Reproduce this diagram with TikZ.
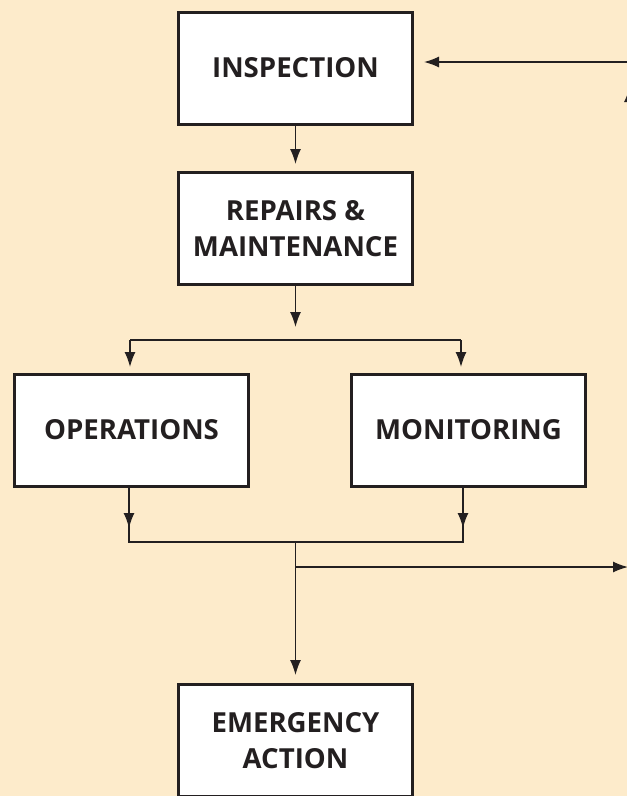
\documentclass[tikz,border=0pt]{standalone}
\usepackage{fontspec}
\setmainfont{Open Sans}
\usetikzlibrary{arrows.meta}
\definecolor{bg}{HTML}{FDEBCB}
\definecolor{ink}{HTML}{231F20}
\begin{document}
\begin{tikzpicture}[x=1pt,y=-1pt,
 box/.style={draw=ink, line width=3pt, fill=white, minimum width=234pt, minimum height=112pt, inner sep=0pt, align=center, font=\fontsize{27.6}{36}\selectfont\bfseries, text=ink},
 conn/.style={draw=ink, line width=1.4pt},
 tip/.style={-{Latex[length=15pt,width=11pt]}}
]
\path[use as bounding box] (0,0) rectangle (627,796);
\clip (0,0) rectangle (627,796);
\fill[bg] (0,0) rectangle (627,796);

\node[box] (insp) at (295.5,68.5) {\raisebox{3pt}{INSPECTION}};
\node[box] (rep) at (295.5,228.5) {REPAIRS \&\\MAINTENANCE};
\node[box] (ops) at (131.5,430.5) {\raisebox{3pt}{OPERATIONS}};
\node[box] (mon) at (468.5,430.5) {\raisebox{3pt}{MONITORING}};
\node[box] (emer) at (295.5,740.5) {EMERGENCY\\ACTION};

\coordinate (sa) at (295.5,327);
\coordinate (sl) at (130,340);
\coordinate (sr) at (461,340);
\coordinate (jl) at (129,542);
\coordinate (jr) at (463,542);
\coordinate (jm) at (295.5,542);
\coordinate (br) at (295.5,567);
\coordinate (rout) at (628,567);
\coordinate (fin) at (640,62);
\coordinate (upb) at (629.5,250);
\coordinate (upt) at (629.5,87);

\draw[conn,tip,shorten >=7pt] (insp) -- (rep);
\draw[conn,tip] (rep.south) -- (sa);
\draw[conn] (sl) -- (sr);
\draw[conn,tip,shorten >=6pt] (sl) -- (sl |- ops.north);
\draw[conn,tip,shorten >=6pt] (sr) -- (sr |- mon.north);

\draw[conn] (jl |- ops.south) -- (jl) -- (jr) -- (jr |- mon.south);
\draw[conn,tip,shorten >=14pt] (jl |- ops.south) -- (jl);
\draw[conn,tip,shorten >=14pt] (jr |- mon.south) -- (jr);

\draw[conn,tip,shorten >=8pt] (jm) -- (emer.north);
\draw[conn,tip] (br) -- (rout);

\draw[conn,tip,shorten >=10pt] (fin) -- (insp.east |- fin);
\draw[conn,tip] (upb) -- (upt);
\end{tikzpicture}
\end{document}
